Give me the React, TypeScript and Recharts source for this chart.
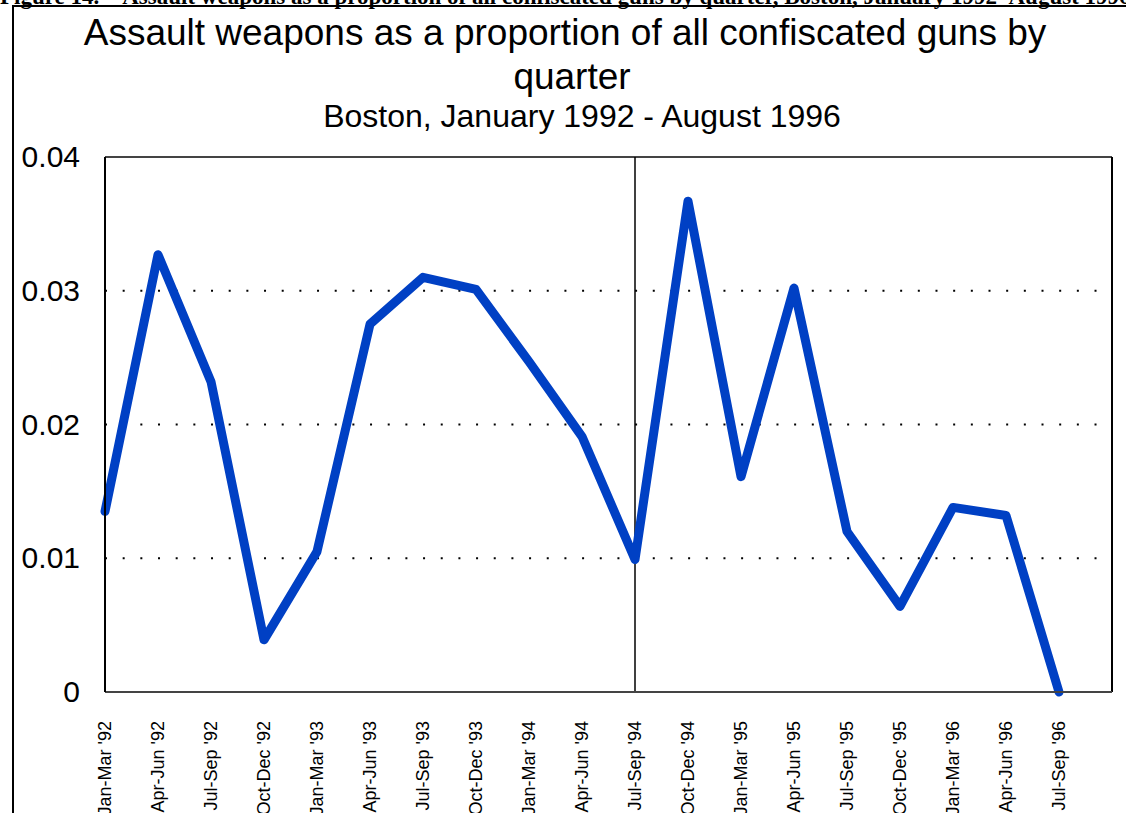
import { LineChart, Line, XAxis, YAxis, CartesianGrid, ReferenceLine } from 'recharts';

const quarters = [
  "Jan-Mar '92", "Apr-Jun '92", "Jul-Sep '92", "Oct-Dec '92",
  "Jan-Mar '93", "Apr-Jun '93", "Jul-Sep '93", "Oct-Dec '93",
  "Jan-Mar '94", "Apr-Jun '94", "Jul-Sep '94", "Oct-Dec '94",
  "Jan-Mar '95", "Apr-Jun '95", "Jul-Sep '95", "Oct-Dec '95",
  "Jan-Mar '96", "Apr-Jun '96", "Jul-Sep '96",
];

const proportion = [
  0.0135, 0.0327, 0.0232, 0.0039,
  0.0105, 0.0275, 0.031, 0.0301,
  0.0247, 0.0191, 0.0099, 0.0367,
  0.0161, 0.0302, 0.012, 0.0064,
  0.0138, 0.0132, 0,
];

const yTicks = [0, 0.01, 0.02, 0.03, 0.04];
const yLabels = ['0', '0.01', '0.02', '0.03', '0.04'];

const data = quarters.map((q, i) => ({ i, q, value: proportion[i] }));

const FONT = "'Liberation Sans', Arial, sans-serif";

function XTick(props: any) {
  const { x, y, payload } = props;
  const ax = x + 6;
  const ay = y + 21;
  return (
    <text
      x={ax}
      y={ay}
      transform={`rotate(-90, ${ax}, ${ay})`}
      textAnchor="end"
      fontSize={18}
      fontFamily={FONT}
      fill="#000"
    >
      {quarters[payload.value]}
    </text>
  );
}

function YTick(props: any) {
  const { y, payload } = props;
  const idx = yTicks.indexOf(payload.value);
  return (
    <text
      x={80}
      y={y}
      dy={10}
      textAnchor="end"
      fontSize={30}
      fontFamily={FONT}
      fill="#000"
    >
      {yLabels[idx]}
    </text>
  );
}

export default function App() {
  return (
    <div
      style={{
        position: 'absolute',
        left: 0,
        top: 0,
        width: 1126,
        height: 813,
        overflow: 'hidden',
        background: '#fff',
      }}
    >
      <div
        style={{
          position: 'absolute',
          left: 0,
          top: -15,
          whiteSpace: 'nowrap',
          fontFamily: "'Liberation Serif', 'Times New Roman', serif",
          fontWeight: 'bold',
          fontSize: 23,
          lineHeight: '23px',
        }}
      >
        Figure 14.&nbsp;&nbsp;&nbsp;&nbsp;Assault weapons as a proportion of all confiscated guns by quarter, Boston, January 1992–August 1996
      </div>
      <div
        style={{
          position: 'absolute',
          left: 12,
          top: 5,
          width: 1200,
          height: 900,
          borderLeft: '2px solid #000',
          borderTop: '2px solid #000',
        }}
      />
      <svg
        width={1126}
        height={150}
        style={{ position: 'absolute', left: 0, top: 0 }}
      >
        <text x={565} y={45} textAnchor="middle" fontSize={37} fontFamily={FONT} fill="#000">
          Assault weapons as a proportion of all confiscated guns by
        </text>
        <text x={572} y={89} textAnchor="middle" fontSize={37} fontFamily={FONT} fill="#000">
          quarter
        </text>
        <text x={582} y={127} textAnchor="middle" fontSize={32} fontFamily={FONT} fill="#000">
          Boston, January 1992 - August 1996
        </text>
      </svg>
      <div style={{ position: 'absolute', left: 0, top: 0 }}>
        <LineChart
          width={1126}
          height={813}
          data={data}
          margin={{ top: 157, right: 14, bottom: 6, left: 0 }}
        >
          <CartesianGrid
            horizontal
            vertical={false}
            stroke="#000"
            strokeWidth={2}
            strokeDasharray="2 15.67"
            horizontalValues={[0.01, 0.02, 0.03]}
          />
          <XAxis
            dataKey="i"
            type="number"
            domain={[0, 19]}
            ticks={quarters.map((_, i) => i)}
            interval={0}
            height={115}
            tick={<XTick />}
            tickLine={false}
            axisLine={{ stroke: '#444', strokeWidth: 2 }}
          />
          <YAxis
            type="number"
            domain={[0, 0.04]}
            ticks={yTicks}
            width={105}
            tick={<YTick />}
            tickLine={false}
            axisLine={{ stroke: '#000', strokeWidth: 2 }}
          />
          <ReferenceLine y={0.04} stroke="#444" strokeWidth={2} />
          <ReferenceLine x={19} stroke="#000" strokeWidth={2} />
          <ReferenceLine x={10} stroke="#000" strokeWidth={1.5} />
          <Line
            type="linear"
            dataKey="value"
            stroke="#0040c4"
            strokeWidth={9}
            strokeLinejoin="round"
            strokeLinecap="round"
            dot={false}
            activeDot={false}
            isAnimationActive={false}
          />
        </LineChart>
      </div>
    </div>
  );
}
